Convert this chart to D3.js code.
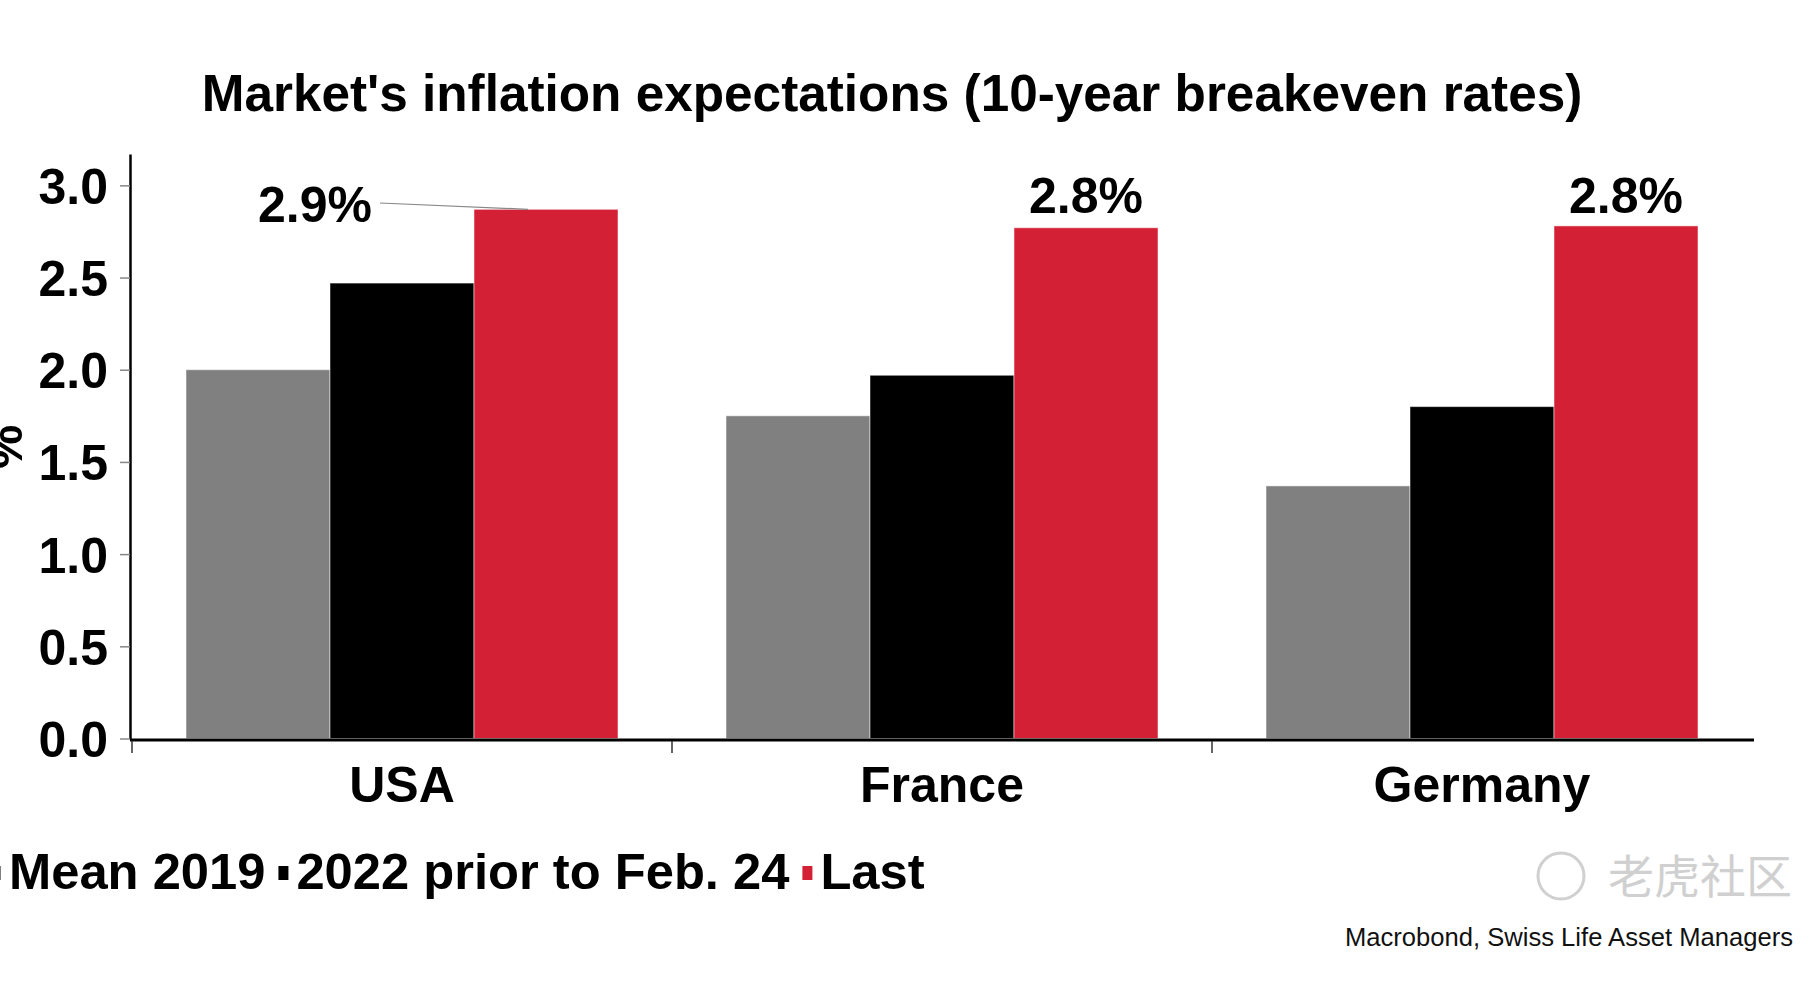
<!DOCTYPE html>
<html>
<head>
<meta charset="utf-8">
<script src="https://cdn.jsdelivr.net/npm/d3@7"></script>
<style>
  body { margin: 0; background: #fff; }
  text { font-family: "Liberation Sans", Arial, sans-serif; }
</style>
</head>
<body>
<svg id="chart" width="1817" height="983"></svg>
<script>
// data
const countries = ["USA", "France", "Germany"];
const seriesNames = ["Mean 2019", "2022 prior to Feb. 24", "Last"];
const mean2019 = [2.0, 1.75, 1.37];
const prior = [2.47, 1.97, 1.80];
const last = [2.87, 2.77, 2.78];
const lastLabels = ["2.9%", "2.8%", "2.8%"];
const yTicks = [0, 0.5, 1, 1.5, 2, 2.5, 3];
const colors = ["#808080", "#000000", "#d42034"];

const svg = d3.select("#chart");

const x = d3.scaleBand().domain(countries).range([132, 1752]).paddingInner(0.2).paddingOuter(0.1);
const x1 = d3.scaleBand().domain(seriesNames).range([0, x.bandwidth()]);
const y = d3.scaleLinear().domain([0, 3.17]).range([738.5, 154]);

const rows = countries.map((c, i) => ({
  country: c,
  values: [mean2019[i], prior[i], last[i]],
  label: lastLabels[i]
}));

// title
svg.append("text")
  .attr("x", 892).attr("y", 111)
  .attr("text-anchor", "middle")
  .style("font-size", "51.3px").style("font-weight", "bold")
  .text("Market's inflation expectations (10-year breakeven rates)");

// bars
const groups = svg.selectAll("g.grp")
  .data(rows)
  .enter()
  .append("g")
  .attr("class", "grp")
  .attr("transform", d => "translate(" + x(d.country) + ",0)");

groups.selectAll("rect")
  .data(d => d.values.map((v, j) => ({ name: seriesNames[j], value: v, j: j })))
  .enter()
  .append("rect")
  .attr("x", d => x1(d.name))
  .attr("width", x1.bandwidth())
  .attr("y", d => y(d.value))
  .attr("height", d => y(0) - y(d.value))
  .attr("fill", d => colors[d.j])
  .attr("stroke", "#fff")
  .attr("stroke-opacity", 0.5)
  .attr("stroke-width", 1);

// y axis
const yAxis = svg.append("g")
  .attr("transform", "translate(130,0)")
  .call(d3.axisLeft(y).tickValues(yTicks).tickFormat(d3.format(".1f")).tickSize(10).tickSizeOuter(0).tickPadding(12));
yAxis.select(".domain").attr("stroke", "#000").attr("stroke-width", 2.5);
yAxis.selectAll(".tick line").attr("stroke", "#888").attr("stroke-width", 1.5);
yAxis.selectAll(".tick text")
  .attr("fill", "#000")
  .style("font-size", "50px").style("font-weight", "bold")
  .style("font-family", "'Liberation Sans', Arial, sans-serif")
  .attr("dy", "0.36em");

// y axis title, cut off at the left edge as in the source
svg.append("text")
  .attr("transform", "translate(22,447) rotate(-90)")
  .attr("text-anchor", "middle")
  .style("font-size", "50px").style("font-weight", "bold")
  .text("%");

// x axis
const xAxis = svg.append("g")
  .attr("transform", "translate(0,740)")
  .call(d3.axisBottom(x).tickSize(0).tickPadding(26));
xAxis.select(".domain").attr("d", "M130,0H1754").attr("stroke", "#000").attr("stroke-width", 3);
xAxis.selectAll(".tick text")
  .attr("fill", "#000")
  .style("font-size", "50px").style("font-weight", "bold")
  .style("font-family", "'Liberation Sans', Arial, sans-serif");

// category separators
svg.append("g").selectAll("line")
  .data(countries)
  .enter()
  .append("line")
  .attr("x1", (d, i) => x.range()[0] + i * x.step())
  .attr("x2", (d, i) => x.range()[0] + i * x.step())
  .attr("y1", 741).attr("y2", 753)
  .attr("stroke", "#333").attr("stroke-width", 1.5);

// value labels over the red bars
const lastName = seriesNames[2];
rows.forEach((r, i) => {
  const cx = x(r.country) + x1(lastName) + x1.bandwidth() / 2;
  if (i === 0) {
    // USA label sits to the left with a leader line
    svg.append("text")
      .attr("x", cx - 231).attr("y", 222)
      .attr("text-anchor", "middle")
      .style("font-size", "50px").style("font-weight", "bold")
      .text(r.label);
    svg.append("line")
      .attr("x1", cx - 166).attr("y1", 203)
      .attr("x2", cx - 18).attr("y2", y(r.values[2]))
      .attr("stroke", "#888").attr("stroke-width", 1.2);
  } else {
    svg.append("text")
      .attr("x", cx).attr("y", 213)
      .attr("text-anchor", "middle")
      .style("font-size", "50px").style("font-weight", "bold")
      .text(r.label);
  }
});

// legend along the bottom, first marker partly off the left edge
const legend = svg.append("g");
let lx = -9;
seriesNames.forEach((name, i) => {
  legend.append("rect")
    .attr("x", lx).attr("y", 866)
    .attr("width", 10).attr("height", 14)
    .attr("fill", colors[i]);
  lx += 18;
  const t = legend.append("text")
    .attr("x", lx).attr("y", 889)
    .style("font-size", "50.7px").style("font-weight", "bold")
    .text(name);
  lx += t.node().getComputedTextLength() + 13;
});

// source
svg.append("text")
  .attr("x", 1793).attr("y", 946)
  .attr("text-anchor", "end")
  .style("font-size", "25.6px")
  .attr("fill", "#111")
  .text("Macrobond, Swiss Life Asset Managers");

// faint watermark
svg.append("circle")
  .attr("cx", 1561).attr("cy", 876).attr("r", 23)
  .attr("fill", "none").attr("stroke", "#d0d0d0").attr("stroke-width", 3);
svg.append("text")
  .attr("x", 1608).attr("y", 893)
  .style("font-size", "46px")
  .style("font-family", "'Noto Sans CJK SC', sans-serif")
  .attr("fill", "#d0d0d0")
  .text("老虎社区");
</script>
</body>
</html>
